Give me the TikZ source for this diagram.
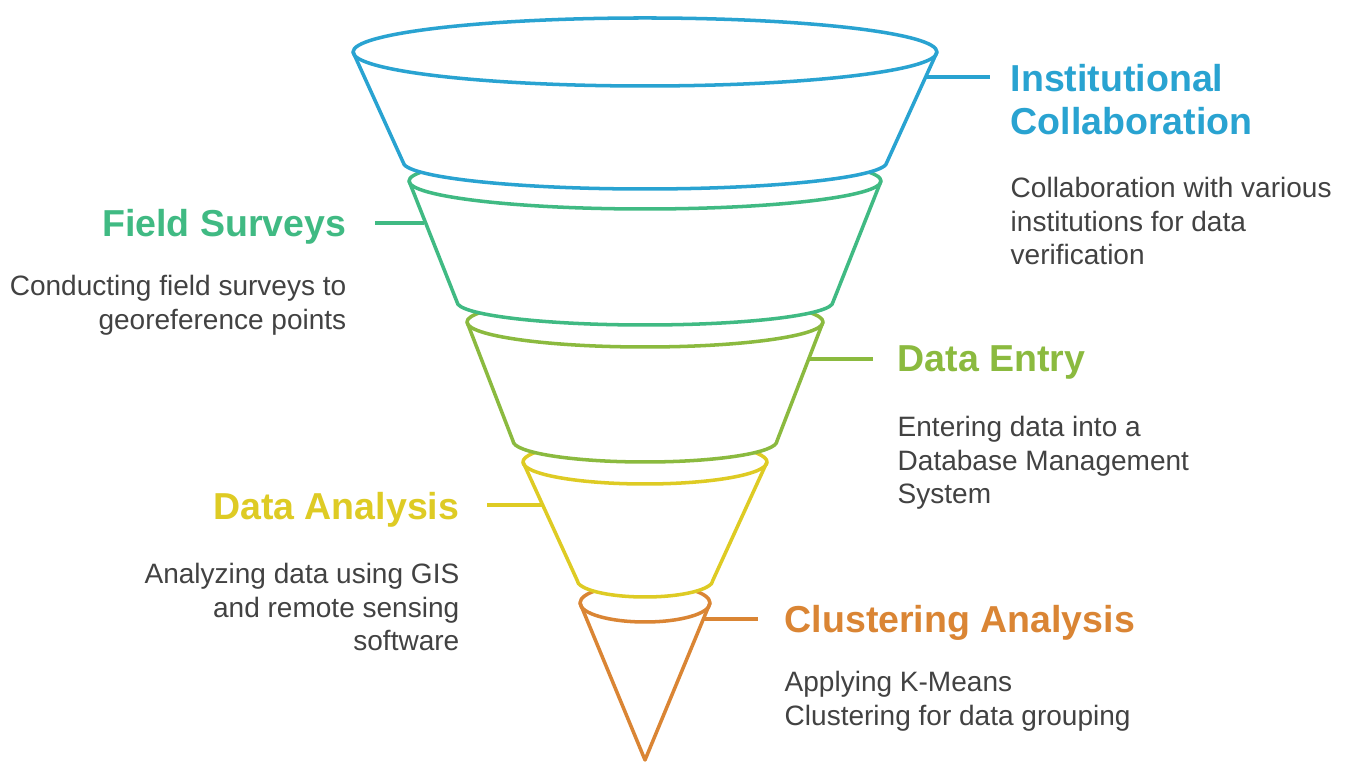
\documentclass[tikz,border=0pt]{standalone}
\usepackage{fontspec}
\setmainfont{Liberation Sans}
\usepackage{tikz}
\usetikzlibrary{positioning}
\usepackage{xcolor}
\definecolor{fnblue}{RGB}{41,163,209}
\definecolor{fngreen}{RGB}{64,186,131}
\definecolor{fnlime}{RGB}{139,186,63}
\definecolor{fnyellow}{RGB}{222,203,36}
\definecolor{fnorange}{RGB}{218,133,52}
\definecolor{fngray}{RGB}{66,66,66}
\tikzstyle{segment} = [line width=1pt, fill=white, line join=round]
\tikzstyle{leader} = [line width=1pt]
\tikzstyle{heading} = [inner sep=0pt, align=left, font=\fontsize{10.67pt}{12.23pt}\selectfont\bfseries]
\tikzstyle{blurb} = [inner sep=0pt, text=fngray, font=\fontsize{7.97pt}{9.53pt}\selectfont]

\begin{document}
\begin{tikzpicture}[x=0.01cm, y=0.01cm]
    \useasboundingbox[fill=white] (0,0) rectangle (1348,-762);

    % Funnel, drawn from the tip upwards
    \draw[segment, draw=fnorange] (580,-603) -- (645,-760) -- (710,-603) arc[start angle=0, end angle=180, x radius=65, y radius=19] -- cycle;
    \draw[segment, draw=fnorange, fill=none] (580,-603) arc[start angle=180, end angle=360, x radius=65, y radius=19];

    \draw[segment, draw=fnyellow] (523,-462) -- (577,-580) arc[start angle=180, end angle=360, x radius=68, y radius=17] -- (767,-462) arc[start angle=0, end angle=180, x radius=122, y radius=22] -- cycle;
    \draw[segment, draw=fnyellow, fill=none] (523,-462) arc[start angle=180, end angle=360, x radius=122, y radius=22];

    \draw[segment, draw=fnlime] (467,-322) -- (513,-441) arc[start angle=180, end angle=360, x radius=132, y radius=21] -- (823,-322) arc[start angle=0, end angle=180, x radius=178, y radius=25] -- cycle;
    \draw[segment, draw=fnlime, fill=none] (467,-322) arc[start angle=180, end angle=360, x radius=178, y radius=25];

    \draw[segment, draw=fngreen] (409,-181) -- (457,-302) arc[start angle=180, end angle=360, x radius=188, y radius=23] -- (881,-181) arc[start angle=0, end angle=180, x radius=236, y radius=28] -- cycle;
    \draw[segment, draw=fngreen, fill=none] (409,-181) arc[start angle=180, end angle=360, x radius=236, y radius=28];

    \draw[segment, draw=fnblue] (353,-52) -- (403,-162) arc[start angle=180, end angle=360, x radius=242, y radius=27] -- (937,-52) arc[start angle=0, end angle=180, x radius=292, y radius=34] -- cycle;
    \draw[segment, draw=fnblue, fill=none] (353,-52) arc[start angle=180, end angle=360, x radius=292, y radius=34];

    % Labels
    \node[heading, text=fnblue, anchor=north west] (inst) at (1010,-63.5) {Institutional\\Collaboration};
    \node[blurb, align=left, anchor=north west] (instdesc) at (1010,-176.5) {Collaboration with various\\institutions for data\\verification};

    \node[heading, text=fngreen, anchor=north east] (field) at (347,-208.5) {Field Surveys};
    \node[blurb, align=right, anchor=north east] (fielddesc) at (347,-274.5) {Conducting field surveys to\\georeference points};

    \node[heading, text=fnlime, anchor=north west] (entry) at (897,-344.5) {Data Entry};
    \node[blurb, align=left, anchor=north west] (entrydesc) at (897,-415.5) {Entering data into a\\Database Management\\System};

    \node[heading, text=fnyellow, anchor=north east] (analysis) at (460,-491.5) {Data Analysis};
    \node[blurb, align=right, anchor=north east] (analysisdesc) at (460,-562.5) {Analyzing data using GIS\\and remote sensing\\software};

    \node[heading, text=fnorange, anchor=north west] (cluster) at (784,-604.5) {Clustering Analysis};
    \node[blurb, align=left, anchor=north west] (clusterdesc) at (784,-670.5) {Applying K-Means\\Clustering for data grouping};

    % Leader lines
    \coordinate (instside) at (925,-77);
    \coordinate (instend) at (990,-77);
    \coordinate (fieldside) at (424,-223);
    \coordinate (fieldend) at (375,-223);
    \coordinate (entryside) at (810,-359);
    \coordinate (entryend) at (873,-359);
    \coordinate (analysisside) at (542,-505);
    \coordinate (analysisend) at (487,-505);
    \coordinate (clusterside) at (703,-619);
    \coordinate (clusterend) at (758,-619);
    \draw[leader, fnblue] (instside) -- (instend);
    \draw[leader, fngreen] (fieldside) -- (fieldend);
    \draw[leader, fnlime] (entryside) -- (entryend);
    \draw[leader, fnyellow] (analysisside) -- (analysisend);
    \draw[leader, fnorange] (clusterside) -- (clusterend);
\end{tikzpicture}
\end{document}
